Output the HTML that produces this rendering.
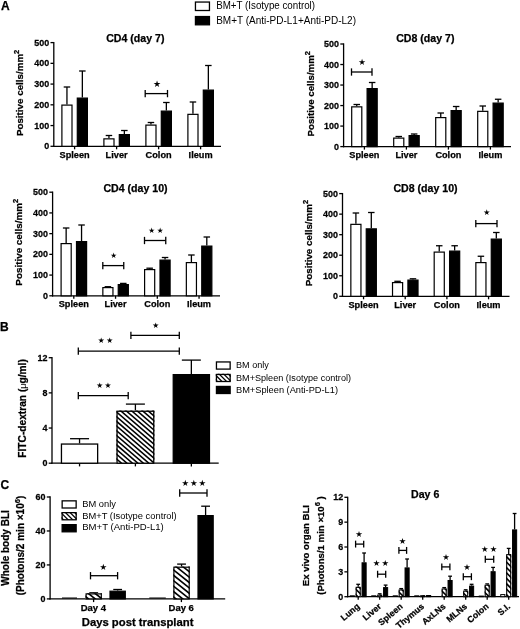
<!DOCTYPE html>
<html><head><meta charset="utf-8"><title>Figure</title>
<style>
html,body{margin:0;padding:0;background:#fff;}
body{width:520px;height:629px;overflow:hidden;}
svg{display:block;}
text{font-family:"Liberation Sans",Arial,Helvetica,sans-serif;fill:#000;}
text[font-weight="bold"]{stroke:#000;stroke-width:0.25px;}
text.st{font-family:"DejaVu Sans","Liberation Sans",sans-serif;}
.sy{font-family:"DejaVu Sans","Liberation Sans",sans-serif;}
</style></head><body>
<svg width="520" height="629" viewBox="0 0 520 629">
<defs>
</defs>
<rect width="520" height="629" fill="#fff"/>
<line x1="53.80" y1="41.95" x2="53.80" y2="146.95" stroke="#000" stroke-width="1.3"/>
<line x1="50.50" y1="146.30" x2="53.80" y2="146.30" stroke="#000" stroke-width="1.3"/>
<text transform="translate(49.20 149.30) scale(0.95 1)" font-size="9.4" font-weight="bold" text-anchor="end">0</text>
<line x1="50.50" y1="125.56" x2="53.80" y2="125.56" stroke="#000" stroke-width="1.3"/>
<text transform="translate(49.20 128.56) scale(0.95 1)" font-size="9.4" font-weight="bold" text-anchor="end">100</text>
<line x1="50.50" y1="104.82" x2="53.80" y2="104.82" stroke="#000" stroke-width="1.3"/>
<text transform="translate(49.20 107.82) scale(0.95 1)" font-size="9.4" font-weight="bold" text-anchor="end">200</text>
<line x1="50.50" y1="84.08" x2="53.80" y2="84.08" stroke="#000" stroke-width="1.3"/>
<text transform="translate(49.20 87.08) scale(0.95 1)" font-size="9.4" font-weight="bold" text-anchor="end">300</text>
<line x1="50.50" y1="63.34" x2="53.80" y2="63.34" stroke="#000" stroke-width="1.3"/>
<text transform="translate(49.20 66.34) scale(0.95 1)" font-size="9.4" font-weight="bold" text-anchor="end">400</text>
<line x1="50.50" y1="42.60" x2="53.80" y2="42.60" stroke="#000" stroke-width="1.3"/>
<text transform="translate(49.20 45.60) scale(0.95 1)" font-size="9.4" font-weight="bold" text-anchor="end">500</text>
<line x1="53.15" y1="146.30" x2="221.00" y2="146.30" stroke="#000" stroke-width="1.3"/>
<line x1="74.60" y1="146.30" x2="74.60" y2="149.30" stroke="#000" stroke-width="1.3"/>
<line x1="66.95" y1="87.00" x2="66.95" y2="104.50" stroke="#000" stroke-width="1.3"/>
<line x1="63.70" y1="87.00" x2="70.20" y2="87.00" stroke="#000" stroke-width="1.3"/>
<rect x="61.90" y="105.10" width="10.10" height="41.20" fill="#fff" stroke="#000" stroke-width="1.2"/>
<line x1="82.35" y1="71.00" x2="82.35" y2="97.50" stroke="#000" stroke-width="1.3"/>
<line x1="79.10" y1="71.00" x2="85.60" y2="71.00" stroke="#000" stroke-width="1.3"/>
<rect x="77.30" y="98.10" width="10.10" height="48.20" fill="#000" stroke="#000" stroke-width="1.2"/>
<text x="74.60" y="157.50" font-size="9.2" font-weight="bold" text-anchor="middle">Spleen</text>
<line x1="116.60" y1="146.30" x2="116.60" y2="149.30" stroke="#000" stroke-width="1.3"/>
<line x1="108.95" y1="135.50" x2="108.95" y2="138.25" stroke="#000" stroke-width="1.3"/>
<line x1="105.70" y1="135.50" x2="112.20" y2="135.50" stroke="#000" stroke-width="1.3"/>
<rect x="103.90" y="138.85" width="10.10" height="7.45" fill="#fff" stroke="#000" stroke-width="1.2"/>
<line x1="124.35" y1="130.50" x2="124.35" y2="134.00" stroke="#000" stroke-width="1.3"/>
<line x1="121.10" y1="130.50" x2="127.60" y2="130.50" stroke="#000" stroke-width="1.3"/>
<rect x="119.30" y="134.60" width="10.10" height="11.70" fill="#000" stroke="#000" stroke-width="1.2"/>
<text x="116.60" y="157.50" font-size="9.2" font-weight="bold" text-anchor="middle">Liver</text>
<line x1="158.60" y1="146.30" x2="158.60" y2="149.30" stroke="#000" stroke-width="1.3"/>
<line x1="150.95" y1="122.50" x2="150.95" y2="124.50" stroke="#000" stroke-width="1.3"/>
<line x1="147.70" y1="122.50" x2="154.20" y2="122.50" stroke="#000" stroke-width="1.3"/>
<rect x="145.90" y="125.10" width="10.10" height="21.20" fill="#fff" stroke="#000" stroke-width="1.2"/>
<line x1="166.35" y1="102.50" x2="166.35" y2="110.50" stroke="#000" stroke-width="1.3"/>
<line x1="163.10" y1="102.50" x2="169.60" y2="102.50" stroke="#000" stroke-width="1.3"/>
<rect x="161.30" y="111.10" width="10.10" height="35.20" fill="#000" stroke="#000" stroke-width="1.2"/>
<text x="158.60" y="157.50" font-size="9.2" font-weight="bold" text-anchor="middle">Colon</text>
<line x1="200.60" y1="146.30" x2="200.60" y2="149.30" stroke="#000" stroke-width="1.3"/>
<line x1="192.95" y1="102.00" x2="192.95" y2="113.75" stroke="#000" stroke-width="1.3"/>
<line x1="189.70" y1="102.00" x2="196.20" y2="102.00" stroke="#000" stroke-width="1.3"/>
<rect x="187.90" y="114.35" width="10.10" height="31.95" fill="#fff" stroke="#000" stroke-width="1.2"/>
<line x1="208.35" y1="65.50" x2="208.35" y2="89.50" stroke="#000" stroke-width="1.3"/>
<line x1="205.10" y1="65.50" x2="211.60" y2="65.50" stroke="#000" stroke-width="1.3"/>
<rect x="203.30" y="90.10" width="10.10" height="56.20" fill="#000" stroke="#000" stroke-width="1.2"/>
<text x="200.60" y="157.50" font-size="9.2" font-weight="bold" text-anchor="middle">Ileum</text>
<text x="135.30" y="42.40" font-size="10.6" font-weight="bold" text-anchor="middle">CD4 (day 7)</text>
<line x1="145.20" y1="93.60" x2="167.50" y2="93.60" stroke="#000" stroke-width="1.3"/>
<line x1="145.20" y1="89.95" x2="145.20" y2="97.25" stroke="#000" stroke-width="1.3"/>
<line x1="167.50" y1="89.95" x2="167.50" y2="97.25" stroke="#000" stroke-width="1.3"/>
<text class="st" x="157.00" y="87.24" font-size="9.0" text-anchor="middle">★</text>
<text x="23.20" y="92.90" font-size="9.8" font-weight="bold" text-anchor="middle" transform="rotate(-90 23.20 92.90)">Positive cells/mm<tspan font-size="7.5" dy="-3.8">2</tspan></text>
<line x1="343.60" y1="43.35" x2="343.60" y2="147.25" stroke="#000" stroke-width="1.3"/>
<line x1="340.30" y1="146.60" x2="343.60" y2="146.60" stroke="#000" stroke-width="1.3"/>
<text transform="translate(339.00 149.60) scale(0.95 1)" font-size="9.4" font-weight="bold" text-anchor="end">0</text>
<line x1="340.30" y1="126.08" x2="343.60" y2="126.08" stroke="#000" stroke-width="1.3"/>
<text transform="translate(339.00 129.08) scale(0.95 1)" font-size="9.4" font-weight="bold" text-anchor="end">100</text>
<line x1="340.30" y1="105.56" x2="343.60" y2="105.56" stroke="#000" stroke-width="1.3"/>
<text transform="translate(339.00 108.56) scale(0.95 1)" font-size="9.4" font-weight="bold" text-anchor="end">200</text>
<line x1="340.30" y1="85.04" x2="343.60" y2="85.04" stroke="#000" stroke-width="1.3"/>
<text transform="translate(339.00 88.04) scale(0.95 1)" font-size="9.4" font-weight="bold" text-anchor="end">300</text>
<line x1="340.30" y1="64.52" x2="343.60" y2="64.52" stroke="#000" stroke-width="1.3"/>
<text transform="translate(339.00 67.52) scale(0.95 1)" font-size="9.4" font-weight="bold" text-anchor="end">400</text>
<line x1="340.30" y1="44.00" x2="343.60" y2="44.00" stroke="#000" stroke-width="1.3"/>
<text transform="translate(339.00 47.00) scale(0.95 1)" font-size="9.4" font-weight="bold" text-anchor="end">500</text>
<line x1="342.95" y1="146.60" x2="511.00" y2="146.60" stroke="#000" stroke-width="1.3"/>
<line x1="364.40" y1="146.60" x2="364.40" y2="149.60" stroke="#000" stroke-width="1.3"/>
<line x1="356.75" y1="104.50" x2="356.75" y2="106.25" stroke="#000" stroke-width="1.3"/>
<line x1="353.50" y1="104.50" x2="360.00" y2="104.50" stroke="#000" stroke-width="1.3"/>
<rect x="351.70" y="106.85" width="10.10" height="39.75" fill="#fff" stroke="#000" stroke-width="1.2"/>
<line x1="372.15" y1="82.50" x2="372.15" y2="88.00" stroke="#000" stroke-width="1.3"/>
<line x1="368.90" y1="82.50" x2="375.40" y2="82.50" stroke="#000" stroke-width="1.3"/>
<rect x="367.10" y="88.60" width="10.10" height="58.00" fill="#000" stroke="#000" stroke-width="1.2"/>
<text x="364.40" y="157.80" font-size="9.2" font-weight="bold" text-anchor="middle">Spleen</text>
<line x1="406.40" y1="146.60" x2="406.40" y2="149.60" stroke="#000" stroke-width="1.3"/>
<line x1="398.75" y1="136.50" x2="398.75" y2="137.50" stroke="#000" stroke-width="1.3"/>
<line x1="395.50" y1="136.50" x2="402.00" y2="136.50" stroke="#000" stroke-width="1.3"/>
<rect x="393.70" y="138.10" width="10.10" height="8.50" fill="#fff" stroke="#000" stroke-width="1.2"/>
<line x1="414.15" y1="134.00" x2="414.15" y2="135.00" stroke="#000" stroke-width="1.3"/>
<line x1="410.90" y1="134.00" x2="417.40" y2="134.00" stroke="#000" stroke-width="1.3"/>
<rect x="409.10" y="135.60" width="10.10" height="11.00" fill="#000" stroke="#000" stroke-width="1.2"/>
<text x="406.40" y="157.80" font-size="9.2" font-weight="bold" text-anchor="middle">Liver</text>
<line x1="448.40" y1="146.60" x2="448.40" y2="149.60" stroke="#000" stroke-width="1.3"/>
<line x1="440.75" y1="113.00" x2="440.75" y2="117.00" stroke="#000" stroke-width="1.3"/>
<line x1="437.50" y1="113.00" x2="444.00" y2="113.00" stroke="#000" stroke-width="1.3"/>
<rect x="435.70" y="117.60" width="10.10" height="29.00" fill="#fff" stroke="#000" stroke-width="1.2"/>
<line x1="456.15" y1="106.50" x2="456.15" y2="110.00" stroke="#000" stroke-width="1.3"/>
<line x1="452.90" y1="106.50" x2="459.40" y2="106.50" stroke="#000" stroke-width="1.3"/>
<rect x="451.10" y="110.60" width="10.10" height="36.00" fill="#000" stroke="#000" stroke-width="1.2"/>
<text x="448.40" y="157.80" font-size="9.2" font-weight="bold" text-anchor="middle">Colon</text>
<line x1="490.40" y1="146.60" x2="490.40" y2="149.60" stroke="#000" stroke-width="1.3"/>
<line x1="482.75" y1="106.00" x2="482.75" y2="110.75" stroke="#000" stroke-width="1.3"/>
<line x1="479.50" y1="106.00" x2="486.00" y2="106.00" stroke="#000" stroke-width="1.3"/>
<rect x="477.70" y="111.35" width="10.10" height="35.25" fill="#fff" stroke="#000" stroke-width="1.2"/>
<line x1="498.15" y1="99.25" x2="498.15" y2="102.50" stroke="#000" stroke-width="1.3"/>
<line x1="494.90" y1="99.25" x2="501.40" y2="99.25" stroke="#000" stroke-width="1.3"/>
<rect x="493.10" y="103.10" width="10.10" height="43.50" fill="#000" stroke="#000" stroke-width="1.2"/>
<text x="490.40" y="157.80" font-size="9.2" font-weight="bold" text-anchor="middle">Ileum</text>
<text x="425.30" y="42.30" font-size="10.6" font-weight="bold" text-anchor="middle">CD8 (day 7)</text>
<line x1="351.50" y1="72.00" x2="372.00" y2="72.00" stroke="#000" stroke-width="1.3"/>
<line x1="351.50" y1="68.35" x2="351.50" y2="75.65" stroke="#000" stroke-width="1.3"/>
<line x1="372.00" y1="68.35" x2="372.00" y2="75.65" stroke="#000" stroke-width="1.3"/>
<text class="st" x="362.00" y="64.81" font-size="8.5" text-anchor="middle">★</text>
<text x="313.50" y="93.75" font-size="9.7" font-weight="bold" text-anchor="middle" transform="rotate(-90 313.50 93.75)">Positive cells/mm<tspan font-size="7.5" dy="-3.8">2</tspan></text>
<line x1="52.60" y1="191.55" x2="52.60" y2="296.45" stroke="#000" stroke-width="1.3"/>
<line x1="49.30" y1="295.80" x2="52.60" y2="295.80" stroke="#000" stroke-width="1.3"/>
<text transform="translate(48.00 298.80) scale(0.95 1)" font-size="9.4" font-weight="bold" text-anchor="end">0</text>
<line x1="49.30" y1="275.08" x2="52.60" y2="275.08" stroke="#000" stroke-width="1.3"/>
<text transform="translate(48.00 278.08) scale(0.95 1)" font-size="9.4" font-weight="bold" text-anchor="end">100</text>
<line x1="49.30" y1="254.36" x2="52.60" y2="254.36" stroke="#000" stroke-width="1.3"/>
<text transform="translate(48.00 257.36) scale(0.95 1)" font-size="9.4" font-weight="bold" text-anchor="end">200</text>
<line x1="49.30" y1="233.64" x2="52.60" y2="233.64" stroke="#000" stroke-width="1.3"/>
<text transform="translate(48.00 236.64) scale(0.95 1)" font-size="9.4" font-weight="bold" text-anchor="end">300</text>
<line x1="49.30" y1="212.92" x2="52.60" y2="212.92" stroke="#000" stroke-width="1.3"/>
<text transform="translate(48.00 215.92) scale(0.95 1)" font-size="9.4" font-weight="bold" text-anchor="end">400</text>
<line x1="49.30" y1="192.20" x2="52.60" y2="192.20" stroke="#000" stroke-width="1.3"/>
<text transform="translate(48.00 195.20) scale(0.95 1)" font-size="9.4" font-weight="bold" text-anchor="end">500</text>
<line x1="51.95" y1="295.80" x2="220.00" y2="295.80" stroke="#000" stroke-width="1.3"/>
<line x1="73.80" y1="295.80" x2="73.80" y2="298.80" stroke="#000" stroke-width="1.3"/>
<line x1="66.15" y1="228.00" x2="66.15" y2="243.00" stroke="#000" stroke-width="1.3"/>
<line x1="62.90" y1="228.00" x2="69.40" y2="228.00" stroke="#000" stroke-width="1.3"/>
<rect x="61.10" y="243.60" width="10.10" height="52.20" fill="#fff" stroke="#000" stroke-width="1.2"/>
<line x1="81.55" y1="225.00" x2="81.55" y2="241.00" stroke="#000" stroke-width="1.3"/>
<line x1="78.30" y1="225.00" x2="84.80" y2="225.00" stroke="#000" stroke-width="1.3"/>
<rect x="76.50" y="241.60" width="10.10" height="54.20" fill="#000" stroke="#000" stroke-width="1.2"/>
<text x="73.80" y="307.00" font-size="9.2" font-weight="bold" text-anchor="middle">Spleen</text>
<line x1="115.55" y1="295.80" x2="115.55" y2="298.80" stroke="#000" stroke-width="1.3"/>
<line x1="107.90" y1="286.70" x2="107.90" y2="287.00" stroke="#000" stroke-width="1.3"/>
<line x1="104.65" y1="286.70" x2="111.15" y2="286.70" stroke="#000" stroke-width="1.3"/>
<rect x="102.85" y="287.60" width="10.10" height="8.20" fill="#fff" stroke="#000" stroke-width="1.2"/>
<line x1="123.30" y1="283.40" x2="123.30" y2="284.00" stroke="#000" stroke-width="1.3"/>
<line x1="120.05" y1="283.40" x2="126.55" y2="283.40" stroke="#000" stroke-width="1.3"/>
<rect x="118.25" y="284.60" width="10.10" height="11.20" fill="#000" stroke="#000" stroke-width="1.2"/>
<text x="115.55" y="307.00" font-size="9.2" font-weight="bold" text-anchor="middle">Liver</text>
<line x1="157.30" y1="295.80" x2="157.30" y2="298.80" stroke="#000" stroke-width="1.3"/>
<line x1="149.65" y1="268.20" x2="149.65" y2="269.00" stroke="#000" stroke-width="1.3"/>
<line x1="146.40" y1="268.20" x2="152.90" y2="268.20" stroke="#000" stroke-width="1.3"/>
<rect x="144.60" y="269.60" width="10.10" height="26.20" fill="#fff" stroke="#000" stroke-width="1.2"/>
<line x1="165.05" y1="257.50" x2="165.05" y2="259.50" stroke="#000" stroke-width="1.3"/>
<line x1="161.80" y1="257.50" x2="168.30" y2="257.50" stroke="#000" stroke-width="1.3"/>
<rect x="160.00" y="260.10" width="10.10" height="35.70" fill="#000" stroke="#000" stroke-width="1.2"/>
<text x="157.30" y="307.00" font-size="9.2" font-weight="bold" text-anchor="middle">Colon</text>
<line x1="199.05" y1="295.80" x2="199.05" y2="298.80" stroke="#000" stroke-width="1.3"/>
<line x1="191.40" y1="255.00" x2="191.40" y2="262.00" stroke="#000" stroke-width="1.3"/>
<line x1="188.15" y1="255.00" x2="194.65" y2="255.00" stroke="#000" stroke-width="1.3"/>
<rect x="186.35" y="262.60" width="10.10" height="33.20" fill="#fff" stroke="#000" stroke-width="1.2"/>
<line x1="206.80" y1="237.00" x2="206.80" y2="245.50" stroke="#000" stroke-width="1.3"/>
<line x1="203.55" y1="237.00" x2="210.05" y2="237.00" stroke="#000" stroke-width="1.3"/>
<rect x="201.75" y="246.10" width="10.10" height="49.70" fill="#000" stroke="#000" stroke-width="1.2"/>
<text x="199.05" y="307.00" font-size="9.2" font-weight="bold" text-anchor="middle">Ileum</text>
<text x="135.50" y="191.50" font-size="10.6" font-weight="bold" text-anchor="middle">CD4 (day 10)</text>
<line x1="102.80" y1="265.60" x2="123.75" y2="265.60" stroke="#000" stroke-width="1.3"/>
<line x1="102.80" y1="261.95" x2="102.80" y2="269.25" stroke="#000" stroke-width="1.3"/>
<line x1="123.75" y1="261.95" x2="123.75" y2="269.25" stroke="#000" stroke-width="1.3"/>
<text class="st" x="113.75" y="258.49" font-size="7.6" text-anchor="middle">★</text>
<line x1="144.50" y1="240.50" x2="165.75" y2="240.50" stroke="#000" stroke-width="1.3"/>
<line x1="144.50" y1="236.85" x2="144.50" y2="244.15" stroke="#000" stroke-width="1.3"/>
<line x1="165.75" y1="236.85" x2="165.75" y2="244.15" stroke="#000" stroke-width="1.3"/>
<text class="st" x="151.70" y="232.64" font-size="7.6" text-anchor="middle">★</text>
<text class="st" x="160.10" y="232.64" font-size="7.6" text-anchor="middle">★</text>
<text x="21.90" y="242.25" font-size="9.85" font-weight="bold" text-anchor="middle" transform="rotate(-90 21.90 242.25)">Positive cells/mm<tspan font-size="7.5" dy="-3.8">2</tspan></text>
<line x1="342.50" y1="192.95" x2="342.50" y2="296.95" stroke="#000" stroke-width="1.3"/>
<line x1="339.20" y1="296.30" x2="342.50" y2="296.30" stroke="#000" stroke-width="1.3"/>
<text transform="translate(337.90 299.30) scale(0.95 1)" font-size="9.4" font-weight="bold" text-anchor="end">0</text>
<line x1="339.20" y1="275.76" x2="342.50" y2="275.76" stroke="#000" stroke-width="1.3"/>
<text transform="translate(337.90 278.76) scale(0.95 1)" font-size="9.4" font-weight="bold" text-anchor="end">100</text>
<line x1="339.20" y1="255.22" x2="342.50" y2="255.22" stroke="#000" stroke-width="1.3"/>
<text transform="translate(337.90 258.22) scale(0.95 1)" font-size="9.4" font-weight="bold" text-anchor="end">200</text>
<line x1="339.20" y1="234.68" x2="342.50" y2="234.68" stroke="#000" stroke-width="1.3"/>
<text transform="translate(337.90 237.68) scale(0.95 1)" font-size="9.4" font-weight="bold" text-anchor="end">300</text>
<line x1="339.20" y1="214.14" x2="342.50" y2="214.14" stroke="#000" stroke-width="1.3"/>
<text transform="translate(337.90 217.14) scale(0.95 1)" font-size="9.4" font-weight="bold" text-anchor="end">400</text>
<line x1="339.20" y1="193.60" x2="342.50" y2="193.60" stroke="#000" stroke-width="1.3"/>
<text transform="translate(337.90 196.60) scale(0.95 1)" font-size="9.4" font-weight="bold" text-anchor="end">500</text>
<line x1="341.85" y1="296.30" x2="509.50" y2="296.30" stroke="#000" stroke-width="1.3"/>
<line x1="363.55" y1="296.30" x2="363.55" y2="299.30" stroke="#000" stroke-width="1.3"/>
<line x1="355.90" y1="213.00" x2="355.90" y2="223.75" stroke="#000" stroke-width="1.3"/>
<line x1="352.65" y1="213.00" x2="359.15" y2="213.00" stroke="#000" stroke-width="1.3"/>
<rect x="350.85" y="224.35" width="10.10" height="71.95" fill="#fff" stroke="#000" stroke-width="1.2"/>
<line x1="371.30" y1="212.50" x2="371.30" y2="228.25" stroke="#000" stroke-width="1.3"/>
<line x1="368.05" y1="212.50" x2="374.55" y2="212.50" stroke="#000" stroke-width="1.3"/>
<rect x="366.25" y="228.85" width="10.10" height="67.45" fill="#000" stroke="#000" stroke-width="1.2"/>
<text x="363.55" y="307.50" font-size="9.2" font-weight="bold" text-anchor="middle">Spleen</text>
<line x1="405.22" y1="296.30" x2="405.22" y2="299.30" stroke="#000" stroke-width="1.3"/>
<line x1="397.57" y1="281.30" x2="397.57" y2="282.00" stroke="#000" stroke-width="1.3"/>
<line x1="394.32" y1="281.30" x2="400.82" y2="281.30" stroke="#000" stroke-width="1.3"/>
<rect x="392.52" y="282.60" width="10.10" height="13.70" fill="#fff" stroke="#000" stroke-width="1.2"/>
<line x1="412.97" y1="278.80" x2="412.97" y2="279.50" stroke="#000" stroke-width="1.3"/>
<line x1="409.72" y1="278.80" x2="416.22" y2="278.80" stroke="#000" stroke-width="1.3"/>
<rect x="407.92" y="280.10" width="10.10" height="16.20" fill="#000" stroke="#000" stroke-width="1.2"/>
<text x="405.22" y="307.50" font-size="9.2" font-weight="bold" text-anchor="middle">Liver</text>
<line x1="446.89" y1="296.30" x2="446.89" y2="299.30" stroke="#000" stroke-width="1.3"/>
<line x1="439.24" y1="245.75" x2="439.24" y2="251.50" stroke="#000" stroke-width="1.3"/>
<line x1="435.99" y1="245.75" x2="442.49" y2="245.75" stroke="#000" stroke-width="1.3"/>
<rect x="434.19" y="252.10" width="10.10" height="44.20" fill="#fff" stroke="#000" stroke-width="1.2"/>
<line x1="454.64" y1="245.75" x2="454.64" y2="250.50" stroke="#000" stroke-width="1.3"/>
<line x1="451.39" y1="245.75" x2="457.89" y2="245.75" stroke="#000" stroke-width="1.3"/>
<rect x="449.59" y="251.10" width="10.10" height="45.20" fill="#000" stroke="#000" stroke-width="1.2"/>
<text x="446.89" y="307.50" font-size="9.2" font-weight="bold" text-anchor="middle">Colon</text>
<line x1="488.56" y1="296.30" x2="488.56" y2="299.30" stroke="#000" stroke-width="1.3"/>
<line x1="480.91" y1="256.25" x2="480.91" y2="262.00" stroke="#000" stroke-width="1.3"/>
<line x1="477.66" y1="256.25" x2="484.16" y2="256.25" stroke="#000" stroke-width="1.3"/>
<rect x="475.86" y="262.60" width="10.10" height="33.70" fill="#fff" stroke="#000" stroke-width="1.2"/>
<line x1="496.31" y1="232.50" x2="496.31" y2="238.50" stroke="#000" stroke-width="1.3"/>
<line x1="493.06" y1="232.50" x2="499.56" y2="232.50" stroke="#000" stroke-width="1.3"/>
<rect x="491.26" y="239.10" width="10.10" height="57.20" fill="#000" stroke="#000" stroke-width="1.2"/>
<text x="488.56" y="307.50" font-size="9.2" font-weight="bold" text-anchor="middle">Ileum</text>
<text x="425.50" y="191.50" font-size="10.6" font-weight="bold" text-anchor="middle">CD8 (day 10)</text>
<line x1="475.80" y1="223.60" x2="497.00" y2="223.60" stroke="#000" stroke-width="1.3"/>
<line x1="475.80" y1="219.95" x2="475.80" y2="227.25" stroke="#000" stroke-width="1.3"/>
<line x1="497.00" y1="219.95" x2="497.00" y2="227.25" stroke="#000" stroke-width="1.3"/>
<text class="st" x="486.75" y="215.21" font-size="7.8" text-anchor="middle">★</text>
<text x="311.80" y="243.05" font-size="9.8" font-weight="bold" text-anchor="middle" transform="rotate(-90 311.80 243.05)">Positive cells/mm<tspan font-size="7.5" dy="-3.8">2</tspan></text>
<rect x="195.45" y="2.05" width="14.00" height="8.45" fill="#fff" stroke="#000" stroke-width="1.3"/>
<rect x="195.45" y="16.55" width="14.00" height="8.25" fill="#000" stroke="#000" stroke-width="1.3"/>
<text transform="translate(216.20 9.40) scale(0.94 1)" font-size="10.4" font-weight="normal" text-anchor="start">BM+T (Isotype control)</text>
<text transform="translate(216.20 23.60) scale(0.963 1)" font-size="10.4" font-weight="normal" text-anchor="start">BM+T (Anti-PD-L1+Anti-PD-L2)</text>
<text x="0.90" y="9.60" font-size="12" font-weight="bold" text-anchor="start">A</text>
<text x="0.00" y="331.20" font-size="12" font-weight="bold" text-anchor="start">B</text>
<text x="0.60" y="488.50" font-size="12" font-weight="bold" text-anchor="start">C</text>
<line x1="52.00" y1="357.05" x2="52.00" y2="463.85" stroke="#000" stroke-width="1.3"/>
<line x1="48.70" y1="463.20" x2="52.00" y2="463.20" stroke="#000" stroke-width="1.3"/>
<text transform="translate(47.40 466.20) scale(0.95 1)" font-size="9.4" font-weight="bold" text-anchor="end">0</text>
<line x1="48.70" y1="428.03" x2="52.00" y2="428.03" stroke="#000" stroke-width="1.3"/>
<text transform="translate(47.40 431.03) scale(0.95 1)" font-size="9.4" font-weight="bold" text-anchor="end">4</text>
<line x1="48.70" y1="392.87" x2="52.00" y2="392.87" stroke="#000" stroke-width="1.3"/>
<text transform="translate(47.40 395.87) scale(0.95 1)" font-size="9.4" font-weight="bold" text-anchor="end">8</text>
<line x1="48.70" y1="357.70" x2="52.00" y2="357.70" stroke="#000" stroke-width="1.3"/>
<text transform="translate(47.40 360.70) scale(0.95 1)" font-size="9.4" font-weight="bold" text-anchor="end">12</text>
<line x1="51.35" y1="463.20" x2="218.70" y2="463.20" stroke="#000" stroke-width="1.3"/>
<line x1="79.55" y1="463.20" x2="79.55" y2="466.40" stroke="#000" stroke-width="1.3"/>
<line x1="79.55" y1="438.70" x2="79.55" y2="443.40" stroke="#000" stroke-width="1.3"/>
<line x1="70.05" y1="438.70" x2="89.05" y2="438.70" stroke="#000" stroke-width="1.3"/>
<rect x="61.45" y="444.05" width="36.20" height="19.15" fill="#fff" stroke="#000" stroke-width="1.3"/>
<line x1="135.40" y1="463.20" x2="135.40" y2="466.40" stroke="#000" stroke-width="1.3"/>
<line x1="135.40" y1="404.10" x2="135.40" y2="410.60" stroke="#000" stroke-width="1.3"/>
<line x1="125.90" y1="404.10" x2="144.90" y2="404.10" stroke="#000" stroke-width="1.3"/>
<clipPath id="c1"><rect x="116.40" y="410.60" width="38.00" height="52.60"/></clipPath>
<rect x="116.40" y="410.60" width="38.00" height="52.60" fill="#fff"/>
<g clip-path="url(#c1)" stroke="#000" stroke-width="1.55">
<line x1="115.40" y1="373.36" x2="155.40" y2="407.76"/>
<line x1="115.40" y1="378.06" x2="155.40" y2="412.46"/>
<line x1="115.40" y1="382.76" x2="155.40" y2="417.16"/>
<line x1="115.40" y1="387.46" x2="155.40" y2="421.86"/>
<line x1="115.40" y1="392.16" x2="155.40" y2="426.56"/>
<line x1="115.40" y1="396.86" x2="155.40" y2="431.26"/>
<line x1="115.40" y1="401.56" x2="155.40" y2="435.96"/>
<line x1="115.40" y1="406.26" x2="155.40" y2="440.66"/>
<line x1="115.40" y1="410.96" x2="155.40" y2="445.36"/>
<line x1="115.40" y1="415.66" x2="155.40" y2="450.06"/>
<line x1="115.40" y1="420.36" x2="155.40" y2="454.76"/>
<line x1="115.40" y1="425.06" x2="155.40" y2="459.46"/>
<line x1="115.40" y1="429.76" x2="155.40" y2="464.16"/>
<line x1="115.40" y1="434.46" x2="155.40" y2="468.86"/>
<line x1="115.40" y1="439.16" x2="155.40" y2="473.56"/>
<line x1="115.40" y1="443.86" x2="155.40" y2="478.26"/>
<line x1="115.40" y1="448.56" x2="155.40" y2="482.96"/>
<line x1="115.40" y1="453.26" x2="155.40" y2="487.66"/>
<line x1="115.40" y1="457.96" x2="155.40" y2="492.36"/>
<line x1="115.40" y1="462.66" x2="155.40" y2="497.06"/>
</g>
<rect x="117.05" y="411.25" width="36.70" height="51.95" fill="none" stroke="#000" stroke-width="1.3"/>
<line x1="191.35" y1="463.20" x2="191.35" y2="466.40" stroke="#000" stroke-width="1.3"/>
<line x1="191.35" y1="360.10" x2="191.35" y2="374.00" stroke="#000" stroke-width="1.3"/>
<line x1="181.85" y1="360.10" x2="200.85" y2="360.10" stroke="#000" stroke-width="1.3"/>
<rect x="173.25" y="374.65" width="36.20" height="88.55" fill="#000" stroke="#000" stroke-width="1.3"/>
<line x1="78.30" y1="351.20" x2="179.30" y2="351.20" stroke="#000" stroke-width="1.3"/>
<line x1="78.30" y1="347.55" x2="78.30" y2="354.85" stroke="#000" stroke-width="1.3"/>
<line x1="179.30" y1="347.55" x2="179.30" y2="354.85" stroke="#000" stroke-width="1.3"/>
<text class="st" x="101.30" y="342.57" font-size="7.7" text-anchor="middle">★</text>
<text class="st" x="109.80" y="342.57" font-size="7.7" text-anchor="middle">★</text>
<line x1="78.30" y1="395.70" x2="128.20" y2="395.70" stroke="#000" stroke-width="1.3"/>
<line x1="78.30" y1="392.05" x2="78.30" y2="399.35" stroke="#000" stroke-width="1.3"/>
<line x1="128.20" y1="392.05" x2="128.20" y2="399.35" stroke="#000" stroke-width="1.3"/>
<text class="st" x="99.60" y="387.97" font-size="7.7" text-anchor="middle">★</text>
<text class="st" x="108.00" y="387.97" font-size="7.7" text-anchor="middle">★</text>
<line x1="130.90" y1="335.40" x2="179.30" y2="335.40" stroke="#000" stroke-width="1.3"/>
<line x1="130.90" y1="331.75" x2="130.90" y2="339.05" stroke="#000" stroke-width="1.3"/>
<line x1="179.30" y1="331.75" x2="179.30" y2="339.05" stroke="#000" stroke-width="1.3"/>
<text class="st" x="155.60" y="328.27" font-size="7.7" text-anchor="middle">★</text>
<text x="26.20" y="408.45" font-size="10.2" font-weight="bold" text-anchor="middle" transform="rotate(-90 26.20 408.45)">FITC-dextran (<tspan font-weight="normal" font-size="9" stroke="none">μ</tspan>g/ml)</text>
<rect x="216.45" y="361.95" width="13.70" height="7.15" fill="#fff" stroke="#000" stroke-width="1.3"/>
<clipPath id="c2"><rect x="215.80" y="373.80" width="15.00" height="7.70"/></clipPath>
<rect x="215.80" y="373.80" width="15.00" height="7.70" fill="#fff"/>
<g clip-path="url(#c2)" stroke="#000" stroke-width="1.25">
<line x1="214.80" y1="355.90" x2="231.80" y2="372.90"/>
<line x1="214.80" y1="360.50" x2="231.80" y2="377.50"/>
<line x1="214.80" y1="365.10" x2="231.80" y2="382.10"/>
<line x1="214.80" y1="369.70" x2="231.80" y2="386.70"/>
<line x1="214.80" y1="374.30" x2="231.80" y2="391.30"/>
<line x1="214.80" y1="378.90" x2="231.80" y2="395.90"/>
<line x1="214.80" y1="383.50" x2="231.80" y2="400.50"/>
</g>
<rect x="216.45" y="374.45" width="13.70" height="7.05" fill="none" stroke="#000" stroke-width="1.3"/>
<rect x="216.45" y="386.45" width="13.70" height="7.05" fill="#000" stroke="#000" stroke-width="1.3"/>
<text transform="translate(236.00 368.40) scale(0.98 1)" font-size="9.3" font-weight="normal" text-anchor="start">BM only</text>
<text transform="translate(236.00 380.60) scale(0.98 1)" font-size="9.3" font-weight="normal" text-anchor="start">BM+Spleen (Isotype control)</text>
<text transform="translate(236.00 392.70) scale(0.995 1)" font-size="9.3" font-weight="normal" text-anchor="start">BM+Spleen (Anti-PD-L1)</text>
<line x1="50.10" y1="496.35" x2="50.10" y2="599.55" stroke="#000" stroke-width="1.3"/>
<line x1="46.80" y1="598.90" x2="50.10" y2="598.90" stroke="#000" stroke-width="1.3"/>
<text transform="translate(45.50 601.90) scale(0.95 1)" font-size="9.4" font-weight="bold" text-anchor="end">0</text>
<line x1="46.80" y1="564.93" x2="50.10" y2="564.93" stroke="#000" stroke-width="1.3"/>
<text transform="translate(45.50 567.93) scale(0.95 1)" font-size="9.4" font-weight="bold" text-anchor="end">20</text>
<line x1="46.80" y1="530.97" x2="50.10" y2="530.97" stroke="#000" stroke-width="1.3"/>
<text transform="translate(45.50 533.97) scale(0.95 1)" font-size="9.4" font-weight="bold" text-anchor="end">40</text>
<line x1="46.80" y1="497.00" x2="50.10" y2="497.00" stroke="#000" stroke-width="1.3"/>
<text transform="translate(45.50 500.00) scale(0.95 1)" font-size="9.4" font-weight="bold" text-anchor="end">60</text>
<line x1="49.45" y1="598.90" x2="225.20" y2="598.90" stroke="#000" stroke-width="1.3"/>
<line x1="62.00" y1="598.00" x2="77.00" y2="598.00" stroke="#000" stroke-width="1.0"/>
<line x1="93.70" y1="592.80" x2="93.70" y2="593.30" stroke="#000" stroke-width="1.3"/>
<line x1="89.30" y1="592.80" x2="98.10" y2="592.80" stroke="#000" stroke-width="1.3"/>
<clipPath id="c3"><rect x="85.50" y="593.30" width="16.40" height="5.60"/></clipPath>
<rect x="85.50" y="593.30" width="16.40" height="5.60" fill="#fff"/>
<g clip-path="url(#c3)" stroke="#000" stroke-width="1.65">
<line x1="84.50" y1="574.13" x2="102.90" y2="588.85"/>
<line x1="84.50" y1="579.53" x2="102.90" y2="594.25"/>
<line x1="84.50" y1="584.93" x2="102.90" y2="599.65"/>
<line x1="84.50" y1="590.33" x2="102.90" y2="605.05"/>
<line x1="84.50" y1="595.73" x2="102.90" y2="610.45"/>
<line x1="84.50" y1="601.13" x2="102.90" y2="615.85"/>
</g>
<rect x="86.10" y="593.90" width="15.20" height="5.00" fill="none" stroke="#000" stroke-width="1.2"/>
<line x1="117.65" y1="589.50" x2="117.65" y2="590.60" stroke="#000" stroke-width="1.3"/>
<line x1="113.25" y1="589.50" x2="122.05" y2="589.50" stroke="#000" stroke-width="1.3"/>
<rect x="110.00" y="591.20" width="15.30" height="7.70" fill="#000" stroke="#000" stroke-width="1.2"/>
<line x1="149.30" y1="598.00" x2="165.80" y2="598.00" stroke="#000" stroke-width="1.0"/>
<line x1="181.55" y1="564.10" x2="181.55" y2="566.60" stroke="#000" stroke-width="1.3"/>
<line x1="177.15" y1="564.10" x2="185.95" y2="564.10" stroke="#000" stroke-width="1.3"/>
<clipPath id="c4"><rect x="173.30" y="566.60" width="16.50" height="32.30"/></clipPath>
<rect x="173.30" y="566.60" width="16.50" height="32.30" fill="#fff"/>
<g clip-path="url(#c4)" stroke="#000" stroke-width="1.65">
<line x1="172.30" y1="547.35" x2="190.80" y2="562.15"/>
<line x1="172.30" y1="552.75" x2="190.80" y2="567.55"/>
<line x1="172.30" y1="558.15" x2="190.80" y2="572.95"/>
<line x1="172.30" y1="563.55" x2="190.80" y2="578.35"/>
<line x1="172.30" y1="568.95" x2="190.80" y2="583.75"/>
<line x1="172.30" y1="574.35" x2="190.80" y2="589.15"/>
<line x1="172.30" y1="579.75" x2="190.80" y2="594.55"/>
<line x1="172.30" y1="585.15" x2="190.80" y2="599.95"/>
<line x1="172.30" y1="590.55" x2="190.80" y2="605.35"/>
<line x1="172.30" y1="595.95" x2="190.80" y2="610.75"/>
<line x1="172.30" y1="601.35" x2="190.80" y2="616.15"/>
</g>
<rect x="173.90" y="567.20" width="15.30" height="31.70" fill="none" stroke="#000" stroke-width="1.2"/>
<line x1="205.60" y1="506.20" x2="205.60" y2="515.00" stroke="#000" stroke-width="1.3"/>
<line x1="201.20" y1="506.20" x2="210.00" y2="506.20" stroke="#000" stroke-width="1.3"/>
<rect x="198.00" y="515.60" width="15.20" height="83.30" fill="#000" stroke="#000" stroke-width="1.2"/>
<line x1="93.60" y1="598.90" x2="93.60" y2="602.10" stroke="#000" stroke-width="1.3"/>
<line x1="181.40" y1="598.90" x2="181.40" y2="602.10" stroke="#000" stroke-width="1.3"/>
<text x="93.40" y="610.60" font-size="9.5" font-weight="bold" text-anchor="middle">Day 4</text>
<text x="181.20" y="610.60" font-size="9.5" font-weight="bold" text-anchor="middle">Day 6</text>
<text x="137.60" y="626.30" font-size="11.3" font-weight="bold" text-anchor="middle">Days post transplant</text>
<line x1="90.50" y1="575.70" x2="117.60" y2="575.70" stroke="#000" stroke-width="1.3"/>
<line x1="90.50" y1="572.05" x2="90.50" y2="579.35" stroke="#000" stroke-width="1.3"/>
<line x1="117.60" y1="572.05" x2="117.60" y2="579.35" stroke="#000" stroke-width="1.3"/>
<text class="st" x="103.20" y="569.96" font-size="8.5" text-anchor="middle">★</text>
<line x1="179.70" y1="493.00" x2="207.00" y2="493.00" stroke="#000" stroke-width="1.3"/>
<line x1="179.70" y1="489.35" x2="179.70" y2="496.65" stroke="#000" stroke-width="1.3"/>
<line x1="207.00" y1="489.35" x2="207.00" y2="496.65" stroke="#000" stroke-width="1.3"/>
<text class="st" x="185.20" y="485.96" font-size="8.5" text-anchor="middle">★</text>
<text class="st" x="193.70" y="485.96" font-size="8.5" text-anchor="middle">★</text>
<text class="st" x="202.40" y="485.96" font-size="8.5" text-anchor="middle">★</text>
<rect x="62.15" y="500.85" width="14.00" height="7.15" fill="#fff" stroke="#000" stroke-width="1.3"/>
<clipPath id="c5"><rect x="61.50" y="512.00" width="15.30" height="7.80"/></clipPath>
<rect x="61.50" y="512.00" width="15.30" height="7.80" fill="#fff"/>
<g clip-path="url(#c5)" stroke="#000" stroke-width="1.25">
<line x1="60.50" y1="493.80" x2="77.80" y2="511.10"/>
<line x1="60.50" y1="498.40" x2="77.80" y2="515.70"/>
<line x1="60.50" y1="503.00" x2="77.80" y2="520.30"/>
<line x1="60.50" y1="507.60" x2="77.80" y2="524.90"/>
<line x1="60.50" y1="512.20" x2="77.80" y2="529.50"/>
<line x1="60.50" y1="516.80" x2="77.80" y2="534.10"/>
<line x1="60.50" y1="521.40" x2="77.80" y2="538.70"/>
</g>
<rect x="62.15" y="512.65" width="14.00" height="7.15" fill="none" stroke="#000" stroke-width="1.3"/>
<rect x="62.15" y="524.65" width="14.00" height="7.15" fill="#000" stroke="#000" stroke-width="1.3"/>
<text transform="translate(82.20 507.00) scale(0.985 1)" font-size="9.5" font-weight="normal" text-anchor="start">BM only</text>
<text transform="translate(82.20 518.50) scale(0.985 1)" font-size="9.5" font-weight="normal" text-anchor="start">BM+T (Isotype control)</text>
<text transform="translate(82.20 530.10) scale(1.01 1)" font-size="9.5" font-weight="normal" text-anchor="start">BM+T (Anti-PD-L1)</text>
<text x="9.30" y="548.00" font-size="10.0" font-weight="bold" text-anchor="middle" transform="rotate(-90 9.30 548.00)">Whole body BLI</text>
<text x="24.00" y="545.50" font-size="10.0" font-weight="bold" text-anchor="middle" transform="rotate(-90 24.00 545.50)">(Photons/2 min ×10<tspan font-size="7.5" dy="-3.8">6</tspan><tspan dy="3.8">)</tspan></text>
<line x1="347.70" y1="496.65" x2="347.70" y2="597.35" stroke="#000" stroke-width="1.3"/>
<line x1="344.40" y1="596.70" x2="347.70" y2="596.70" stroke="#000" stroke-width="1.3"/>
<text transform="translate(343.10 599.70) scale(0.95 1)" font-size="9.4" font-weight="bold" text-anchor="end">0</text>
<line x1="344.40" y1="571.85" x2="347.70" y2="571.85" stroke="#000" stroke-width="1.3"/>
<text transform="translate(343.10 574.85) scale(0.95 1)" font-size="9.4" font-weight="bold" text-anchor="end">3</text>
<line x1="344.40" y1="547.00" x2="347.70" y2="547.00" stroke="#000" stroke-width="1.3"/>
<text transform="translate(343.10 550.00) scale(0.95 1)" font-size="9.4" font-weight="bold" text-anchor="end">6</text>
<line x1="344.40" y1="522.15" x2="347.70" y2="522.15" stroke="#000" stroke-width="1.3"/>
<text transform="translate(343.10 525.15) scale(0.95 1)" font-size="9.4" font-weight="bold" text-anchor="end">9</text>
<line x1="344.40" y1="497.30" x2="347.70" y2="497.30" stroke="#000" stroke-width="1.3"/>
<text transform="translate(343.10 500.30) scale(0.95 1)" font-size="9.4" font-weight="bold" text-anchor="end">12</text>
<line x1="347.05" y1="596.70" x2="519.00" y2="596.70" stroke="#000" stroke-width="1.3"/>
<line x1="358.20" y1="596.70" x2="358.20" y2="599.70" stroke="#000" stroke-width="1.3"/>
<line x1="349.75" y1="595.80" x2="354.85" y2="595.80" stroke="#000" stroke-width="1.0"/>
<line x1="358.20" y1="584.30" x2="358.20" y2="586.80" stroke="#000" stroke-width="1.3"/>
<line x1="356.30" y1="584.30" x2="360.10" y2="584.30" stroke="#000" stroke-width="1.3"/>
<clipPath id="c6"><rect x="355.65" y="586.80" width="5.10" height="9.90"/></clipPath>
<rect x="355.65" y="586.80" width="5.10" height="9.90" fill="#fff"/>
<g clip-path="url(#c6)" stroke="#000" stroke-width="1.6">
<line x1="354.65" y1="577.30" x2="361.75" y2="584.40"/>
<line x1="354.65" y1="582.70" x2="361.75" y2="589.80"/>
<line x1="354.65" y1="588.10" x2="361.75" y2="595.20"/>
<line x1="354.65" y1="593.50" x2="361.75" y2="600.60"/>
<line x1="354.65" y1="598.90" x2="361.75" y2="606.00"/>
</g>
<rect x="356.20" y="587.35" width="4.00" height="9.35" fill="none" stroke="#000" stroke-width="1.1"/>
<line x1="364.10" y1="553.00" x2="364.10" y2="562.30" stroke="#000" stroke-width="1.3"/>
<line x1="362.20" y1="553.00" x2="366.00" y2="553.00" stroke="#000" stroke-width="1.3"/>
<rect x="362.05" y="562.80" width="4.10" height="33.90" fill="#000" stroke="#000" stroke-width="1.0"/>
<text x="360.30" y="607.40" font-size="8.8" font-weight="bold" text-anchor="end" transform="rotate(-40 360.30 607.40)">Lung</text>
<line x1="355.60" y1="544.10" x2="363.70" y2="544.10" stroke="#000" stroke-width="1.3"/>
<line x1="355.60" y1="540.65" x2="355.60" y2="547.55" stroke="#000" stroke-width="1.3"/>
<line x1="363.70" y1="540.65" x2="363.70" y2="547.55" stroke="#000" stroke-width="1.3"/>
<text class="st" x="359.10" y="537.02" font-size="8.4" text-anchor="middle">★</text>
<line x1="379.70" y1="596.70" x2="379.70" y2="599.70" stroke="#000" stroke-width="1.3"/>
<line x1="371.25" y1="595.80" x2="376.35" y2="595.80" stroke="#000" stroke-width="1.0"/>
<line x1="379.70" y1="593.80" x2="379.70" y2="594.60" stroke="#000" stroke-width="1.3"/>
<line x1="377.80" y1="593.80" x2="381.60" y2="593.80" stroke="#000" stroke-width="1.3"/>
<clipPath id="c7"><rect x="377.15" y="594.60" width="5.10" height="2.10"/></clipPath>
<rect x="377.15" y="594.60" width="5.10" height="2.10" fill="#fff"/>
<g clip-path="url(#c7)" stroke="#000" stroke-width="1.6">
<line x1="376.15" y1="585.10" x2="383.25" y2="592.20"/>
<line x1="376.15" y1="590.50" x2="383.25" y2="597.60"/>
<line x1="376.15" y1="595.90" x2="383.25" y2="603.00"/>
</g>
<rect x="377.70" y="595.15" width="4.00" height="1.55" fill="none" stroke="#000" stroke-width="1.1"/>
<line x1="385.60" y1="585.10" x2="385.60" y2="587.10" stroke="#000" stroke-width="1.3"/>
<line x1="383.70" y1="585.10" x2="387.50" y2="585.10" stroke="#000" stroke-width="1.3"/>
<rect x="383.55" y="587.60" width="4.10" height="9.10" fill="#000" stroke="#000" stroke-width="1.0"/>
<text x="381.80" y="607.40" font-size="8.8" font-weight="bold" text-anchor="end" transform="rotate(-40 381.80 607.40)">Liver</text>
<line x1="377.60" y1="574.20" x2="385.70" y2="574.20" stroke="#000" stroke-width="1.3"/>
<line x1="377.60" y1="570.75" x2="377.60" y2="577.65" stroke="#000" stroke-width="1.3"/>
<line x1="385.70" y1="570.75" x2="385.70" y2="577.65" stroke="#000" stroke-width="1.3"/>
<text class="st" x="376.40" y="566.32" font-size="8.4" text-anchor="middle">★</text>
<text class="st" x="385.30" y="566.32" font-size="8.4" text-anchor="middle">★</text>
<line x1="401.20" y1="596.70" x2="401.20" y2="599.70" stroke="#000" stroke-width="1.3"/>
<line x1="392.75" y1="595.80" x2="397.85" y2="595.80" stroke="#000" stroke-width="1.0"/>
<line x1="401.20" y1="588.60" x2="401.20" y2="589.40" stroke="#000" stroke-width="1.3"/>
<line x1="399.30" y1="588.60" x2="403.10" y2="588.60" stroke="#000" stroke-width="1.3"/>
<clipPath id="c8"><rect x="398.65" y="589.40" width="5.10" height="7.30"/></clipPath>
<rect x="398.65" y="589.40" width="5.10" height="7.30" fill="#fff"/>
<g clip-path="url(#c8)" stroke="#000" stroke-width="1.6">
<line x1="397.65" y1="579.90" x2="404.75" y2="587.00"/>
<line x1="397.65" y1="585.30" x2="404.75" y2="592.40"/>
<line x1="397.65" y1="590.70" x2="404.75" y2="597.80"/>
<line x1="397.65" y1="596.10" x2="404.75" y2="603.20"/>
</g>
<rect x="399.20" y="589.95" width="4.00" height="6.75" fill="none" stroke="#000" stroke-width="1.1"/>
<line x1="407.10" y1="559.00" x2="407.10" y2="567.40" stroke="#000" stroke-width="1.3"/>
<line x1="405.20" y1="559.00" x2="409.00" y2="559.00" stroke="#000" stroke-width="1.3"/>
<rect x="405.05" y="567.90" width="4.10" height="28.80" fill="#000" stroke="#000" stroke-width="1.0"/>
<text x="403.30" y="607.40" font-size="8.8" font-weight="bold" text-anchor="end" transform="rotate(-40 403.30 607.40)">Spleen</text>
<line x1="398.90" y1="550.40" x2="406.60" y2="550.40" stroke="#000" stroke-width="1.3"/>
<line x1="398.90" y1="546.95" x2="398.90" y2="553.85" stroke="#000" stroke-width="1.3"/>
<line x1="406.60" y1="546.95" x2="406.60" y2="553.85" stroke="#000" stroke-width="1.3"/>
<text class="st" x="402.60" y="543.82" font-size="8.4" text-anchor="middle">★</text>
<line x1="422.70" y1="596.70" x2="422.70" y2="599.70" stroke="#000" stroke-width="1.3"/>
<line x1="414.25" y1="595.80" x2="419.35" y2="595.80" stroke="#000" stroke-width="1.0"/>
<clipPath id="c9"><rect x="420.15" y="595.20" width="5.10" height="1.50"/></clipPath>
<rect x="420.15" y="595.20" width="5.10" height="1.50" fill="#fff"/>
<g clip-path="url(#c9)" stroke="#000" stroke-width="1.6">
<line x1="419.15" y1="585.70" x2="426.25" y2="592.80"/>
<line x1="419.15" y1="591.10" x2="426.25" y2="598.20"/>
<line x1="419.15" y1="596.50" x2="426.25" y2="603.60"/>
</g>
<rect x="420.70" y="595.75" width="4.00" height="0.95" fill="none" stroke="#000" stroke-width="1.1"/>
<rect x="426.55" y="595.50" width="4.10" height="1.20" fill="#000" stroke="#000" stroke-width="1.0"/>
<text x="424.80" y="607.40" font-size="8.8" font-weight="bold" text-anchor="end" transform="rotate(-40 424.80 607.40)">Thymus</text>
<line x1="444.20" y1="596.70" x2="444.20" y2="599.70" stroke="#000" stroke-width="1.3"/>
<line x1="444.20" y1="587.60" x2="444.20" y2="588.40" stroke="#000" stroke-width="1.3"/>
<line x1="442.30" y1="587.60" x2="446.10" y2="587.60" stroke="#000" stroke-width="1.3"/>
<clipPath id="c10"><rect x="441.65" y="588.40" width="5.10" height="8.30"/></clipPath>
<rect x="441.65" y="588.40" width="5.10" height="8.30" fill="#fff"/>
<g clip-path="url(#c10)" stroke="#000" stroke-width="1.6">
<line x1="440.65" y1="578.90" x2="447.75" y2="586.00"/>
<line x1="440.65" y1="584.30" x2="447.75" y2="591.40"/>
<line x1="440.65" y1="589.70" x2="447.75" y2="596.80"/>
<line x1="440.65" y1="595.10" x2="447.75" y2="602.20"/>
<line x1="440.65" y1="600.50" x2="447.75" y2="607.60"/>
</g>
<rect x="442.20" y="588.95" width="4.00" height="7.75" fill="none" stroke="#000" stroke-width="1.1"/>
<line x1="450.10" y1="576.20" x2="450.10" y2="580.00" stroke="#000" stroke-width="1.3"/>
<line x1="448.20" y1="576.20" x2="452.00" y2="576.20" stroke="#000" stroke-width="1.3"/>
<rect x="448.05" y="580.50" width="4.10" height="16.20" fill="#000" stroke="#000" stroke-width="1.0"/>
<text x="446.30" y="607.40" font-size="8.8" font-weight="bold" text-anchor="end" transform="rotate(-40 446.30 607.40)">AxLNs</text>
<line x1="441.80" y1="566.90" x2="449.90" y2="566.90" stroke="#000" stroke-width="1.3"/>
<line x1="441.80" y1="563.45" x2="441.80" y2="570.35" stroke="#000" stroke-width="1.3"/>
<line x1="449.90" y1="563.45" x2="449.90" y2="570.35" stroke="#000" stroke-width="1.3"/>
<text class="st" x="446.10" y="559.92" font-size="8.4" text-anchor="middle">★</text>
<line x1="465.70" y1="596.70" x2="465.70" y2="599.70" stroke="#000" stroke-width="1.3"/>
<line x1="465.70" y1="589.80" x2="465.70" y2="590.60" stroke="#000" stroke-width="1.3"/>
<line x1="463.80" y1="589.80" x2="467.60" y2="589.80" stroke="#000" stroke-width="1.3"/>
<clipPath id="c11"><rect x="463.15" y="590.60" width="5.10" height="6.10"/></clipPath>
<rect x="463.15" y="590.60" width="5.10" height="6.10" fill="#fff"/>
<g clip-path="url(#c11)" stroke="#000" stroke-width="1.6">
<line x1="462.15" y1="581.10" x2="469.25" y2="588.20"/>
<line x1="462.15" y1="586.50" x2="469.25" y2="593.60"/>
<line x1="462.15" y1="591.90" x2="469.25" y2="599.00"/>
<line x1="462.15" y1="597.30" x2="469.25" y2="604.40"/>
</g>
<rect x="463.70" y="591.15" width="4.00" height="5.55" fill="none" stroke="#000" stroke-width="1.1"/>
<line x1="471.60" y1="584.30" x2="471.60" y2="585.60" stroke="#000" stroke-width="1.3"/>
<line x1="469.70" y1="584.30" x2="473.50" y2="584.30" stroke="#000" stroke-width="1.3"/>
<rect x="469.55" y="586.10" width="4.10" height="10.60" fill="#000" stroke="#000" stroke-width="1.0"/>
<text x="467.80" y="607.40" font-size="8.8" font-weight="bold" text-anchor="end" transform="rotate(-40 467.80 607.40)">MLNs</text>
<line x1="463.30" y1="576.70" x2="471.40" y2="576.70" stroke="#000" stroke-width="1.3"/>
<line x1="463.30" y1="573.25" x2="463.30" y2="580.15" stroke="#000" stroke-width="1.3"/>
<line x1="471.40" y1="573.25" x2="471.40" y2="580.15" stroke="#000" stroke-width="1.3"/>
<text class="st" x="467.10" y="570.42" font-size="8.4" text-anchor="middle">★</text>
<line x1="487.20" y1="596.70" x2="487.20" y2="599.70" stroke="#000" stroke-width="1.3"/>
<rect x="479.25" y="596.10" width="4.10" height="0.60" fill="#fff" stroke="#000" stroke-width="1.0"/>
<line x1="487.20" y1="583.90" x2="487.20" y2="584.60" stroke="#000" stroke-width="1.3"/>
<line x1="485.30" y1="583.90" x2="489.10" y2="583.90" stroke="#000" stroke-width="1.3"/>
<clipPath id="c12"><rect x="484.65" y="584.60" width="5.10" height="12.10"/></clipPath>
<rect x="484.65" y="584.60" width="5.10" height="12.10" fill="#fff"/>
<g clip-path="url(#c12)" stroke="#000" stroke-width="1.6">
<line x1="483.65" y1="575.10" x2="490.75" y2="582.20"/>
<line x1="483.65" y1="580.50" x2="490.75" y2="587.60"/>
<line x1="483.65" y1="585.90" x2="490.75" y2="593.00"/>
<line x1="483.65" y1="591.30" x2="490.75" y2="598.40"/>
<line x1="483.65" y1="596.70" x2="490.75" y2="603.80"/>
</g>
<rect x="485.20" y="585.15" width="4.00" height="11.55" fill="none" stroke="#000" stroke-width="1.1"/>
<line x1="493.10" y1="567.40" x2="493.10" y2="571.20" stroke="#000" stroke-width="1.3"/>
<line x1="491.20" y1="567.40" x2="495.00" y2="567.40" stroke="#000" stroke-width="1.3"/>
<rect x="491.05" y="571.70" width="4.10" height="25.00" fill="#000" stroke="#000" stroke-width="1.0"/>
<text x="489.30" y="607.40" font-size="8.8" font-weight="bold" text-anchor="end" transform="rotate(-40 489.30 607.40)">Colon</text>
<line x1="485.30" y1="559.30" x2="493.70" y2="559.30" stroke="#000" stroke-width="1.3"/>
<line x1="485.30" y1="555.85" x2="485.30" y2="562.75" stroke="#000" stroke-width="1.3"/>
<line x1="493.70" y1="555.85" x2="493.70" y2="562.75" stroke="#000" stroke-width="1.3"/>
<text class="st" x="484.80" y="551.82" font-size="8.4" text-anchor="middle">★</text>
<text class="st" x="493.40" y="551.82" font-size="8.4" text-anchor="middle">★</text>
<line x1="508.70" y1="596.70" x2="508.70" y2="599.70" stroke="#000" stroke-width="1.3"/>
<rect x="500.75" y="594.60" width="4.10" height="2.10" fill="#fff" stroke="#000" stroke-width="1.0"/>
<line x1="508.70" y1="548.40" x2="508.70" y2="554.10" stroke="#000" stroke-width="1.3"/>
<line x1="506.80" y1="548.40" x2="510.60" y2="548.40" stroke="#000" stroke-width="1.3"/>
<clipPath id="c13"><rect x="506.15" y="554.10" width="5.10" height="42.60"/></clipPath>
<rect x="506.15" y="554.10" width="5.10" height="42.60" fill="#fff"/>
<g clip-path="url(#c13)" stroke="#000" stroke-width="1.6">
<line x1="505.15" y1="544.60" x2="512.25" y2="551.70"/>
<line x1="505.15" y1="550.00" x2="512.25" y2="557.10"/>
<line x1="505.15" y1="555.40" x2="512.25" y2="562.50"/>
<line x1="505.15" y1="560.80" x2="512.25" y2="567.90"/>
<line x1="505.15" y1="566.20" x2="512.25" y2="573.30"/>
<line x1="505.15" y1="571.60" x2="512.25" y2="578.70"/>
<line x1="505.15" y1="577.00" x2="512.25" y2="584.10"/>
<line x1="505.15" y1="582.40" x2="512.25" y2="589.50"/>
<line x1="505.15" y1="587.80" x2="512.25" y2="594.90"/>
<line x1="505.15" y1="593.20" x2="512.25" y2="600.30"/>
<line x1="505.15" y1="598.60" x2="512.25" y2="605.70"/>
</g>
<rect x="506.70" y="554.65" width="4.00" height="42.05" fill="none" stroke="#000" stroke-width="1.1"/>
<line x1="514.60" y1="513.50" x2="514.60" y2="529.40" stroke="#000" stroke-width="1.3"/>
<line x1="512.70" y1="513.50" x2="516.50" y2="513.50" stroke="#000" stroke-width="1.3"/>
<rect x="512.55" y="529.90" width="4.10" height="66.80" fill="#000" stroke="#000" stroke-width="1.0"/>
<text x="510.80" y="607.40" font-size="8.8" font-weight="bold" text-anchor="end" transform="rotate(-40 510.80 607.40)">S.I.</text>
<text x="425.20" y="497.80" font-size="10.6" font-weight="bold" text-anchor="middle">Day 6</text>
<text x="309.00" y="545.60" font-size="9.65" font-weight="bold" text-anchor="middle" transform="rotate(-90 309.00 545.60)">Ex vivo organ BLI</text>
<text x="324.20" y="545.50" font-size="9.65" font-weight="bold" text-anchor="middle" transform="rotate(-90 324.20 545.50)">(Photons/1 min ×10<tspan font-size="7.5" dy="-3.8">6</tspan><tspan dy="3.8"> )</tspan></text>
</svg>
</body></html>
